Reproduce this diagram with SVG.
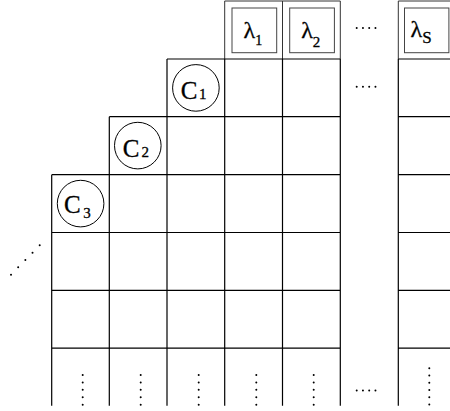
<svg xmlns="http://www.w3.org/2000/svg" width="450" height="411" viewBox="0 0 450 411">
<style>
.grid{stroke:#000;stroke-width:1.2;fill:none}
.hdr{stroke:#333;stroke-width:1;fill:none}
.ibox{stroke:#444;stroke-width:1;fill:none}
.circ{stroke:#000;stroke-width:1;fill:none}
.dots{stroke:#000;stroke-width:2;stroke-linecap:round;fill:none}
.lab{fill:#000;stroke:#000;stroke-width:0.3}
</style>
<rect width="450" height="411" fill="#fff"/>
<g id="grid">
  <path class="hdr" d="M224.7 1H340.3M398.3 1H450M224.7 1V59M282.5 1V59M340.3 1V59M398.3 1V59"/>
  <path class="grid" d="M167 59H340.3M398.3 59H450
    M109.3 116.7H340.3M398.3 116.7H450
    M51.7 174.7H340.3M398.3 174.7H450
    M51.7 232.5H340.3M398.3 232.5H450
    M51.7 290.3H340.3M398.3 290.3H450
    M51.7 348.2H340.3M398.3 348.2H450
    M51.7 174.7V405.7M109.3 116.7V405.7M167 59V405.7M224.7 59V405.7M282.5 59V405.7M340.3 59V405.7M398.3 59V405.7"/>
</g>
<g font-family="Liberation Serif, Times New Roman, serif">
<g id="lambda1">
  <rect class="ibox" x="232" y="8" width="44.7" height="44.7"/>
  <text class="lab" x="243.5" y="37.5" font-size="24">λ<tspan font-size="14" dy="7.5">1</tspan></text>
</g>
<g id="lambda2">
  <rect class="ibox" x="289.7" y="8" width="44.7" height="44.7"/>
  <text class="lab" x="301.2" y="37.5" font-size="24">λ<tspan font-size="15" dy="9">2</tspan></text>
</g>
<g id="lambdaS">
  <rect class="ibox" x="404.5" y="8" width="44.4" height="44.7"/>
  <text class="lab" x="410.5" y="37" font-size="24">λ<tspan font-size="17" dy="6">S</tspan></text>
</g>
<g id="c1">
  <circle class="circ" cx="195.9" cy="87.9" r="23.3"/>
  <text class="lab" x="180.8" y="98.8" font-size="25">C<tspan font-size="15" dx="1.5">1</tspan></text>
</g>
<g id="c2">
  <circle class="circ" cx="137.8" cy="145.6" r="23.3"/>
  <text class="lab" x="122.8" y="157" font-size="25">C<tspan font-size="15" dx="2">2</tspan></text>
</g>
<g id="c3">
  <circle class="circ" cx="80.6" cy="203.6" r="23.3"/>
  <text class="lab" x="64" y="213" font-size="25">C<tspan font-size="15" dx="2.5" dy="4.5">3</tspan></text>
</g>
</g>
<g id="ellipses">
  <path class="dots" stroke-dasharray="0 6.25" d="M356.7 28H381.7M356.7 86.7H381.7M356.7 390.5H381.7"/>
  <path class="dots" stroke-dasharray="0 7.42" d="M82.7 375V404.7M140.7 375V404.7M198.7 375V404.7M256.3 375V404.7M313.7 375V404.7"/>
  <path class="dots" stroke-dasharray="0 7.24" d="M429.3 368.3V404.5"/>
  <path class="dots" stroke-dasharray="0 10.27" d="M39.7 245.3L11 274.7"/>
</g>
</svg>
